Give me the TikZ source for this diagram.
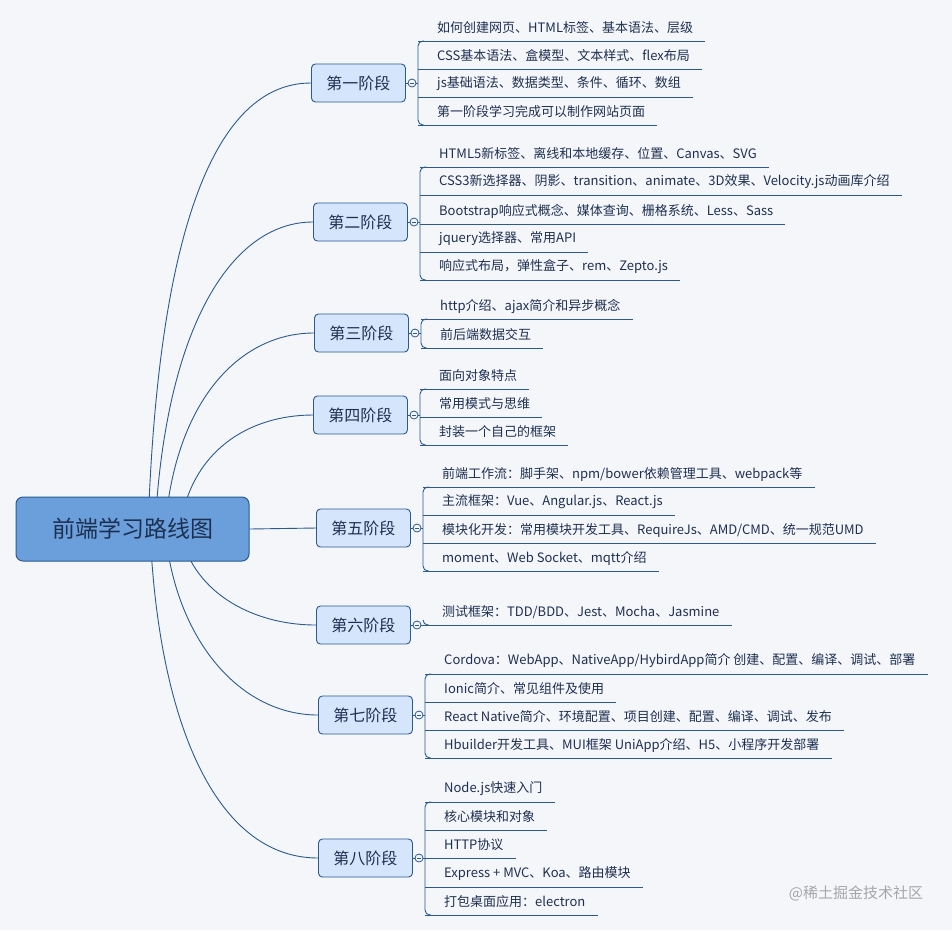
\documentclass[tikz,border=0pt]{standalone}
\usepackage{fontspec}
\setmainfont{Noto Sans CJK SC}
\usetikzlibrary{calc}
\definecolor{bg}{HTML}{F4F6FA}
\definecolor{ln}{HTML}{2A5A92}
\definecolor{stf}{HTML}{D5E6FC}
\definecolor{rootf}{HTML}{6A9FDC}
\definecolor{tx}{HTML}{1E3050}
\tikzset{
  line/.style={draw=ln, line width=0.9pt},
  stage/.style={draw=ln, line width=0.9pt, fill=stf, rounded corners=4pt, minimum width=94pt, minimum height=38pt, inner sep=0pt, font=\fontsize{16}{18}\selectfont, text=tx},
  item/.style={inner sep=0pt, font=\fontsize{13}{15}\selectfont, text=tx},
  knob/.style={draw=ln, line width=0.8pt, fill=bg, circle, minimum size=8pt, inner sep=0pt},
}
% #1 name #2 label #3 left x #4 cy #5 items y/text #6 first item y #7 last item y
\newcommand\stagegrp[7]{%
  \node[stage, anchor=west] (#1) at (#3,#4) {#2};
  \foreach \yy/\tt [count=\i] in {#5} {
    \node[item, anchor=west] (#1-\i) at (#3+126,\yy) {\tt};
    \draw[line] (#3+107,\yy+13) -- ($(#1-\i.east)+(12,13)$);
  }
  \draw[line, rounded corners=5pt] (#3+113,#6+13) -- (#3+107,#6+13) -- (#3+107,#7+13) -- (#3+113,#7+13);
  \draw[line] (#1.east) -- (#3+107,#4);
  \node[knob] (#1-k) at (#3+101,#4) {};
  \draw[line, line width=0.7pt] ($(#1-k)+(-2,0)$) -- ($(#1-k)+(2,0)$);
}
\begin{document}
\begin{tikzpicture}[x=1pt,y=-1pt]
\fill[bg] (0,0) rectangle (952,930);
\useasboundingbox (0,0) rectangle (952,930);

\stagegrp{s1}{第一阶段}{311}{83}{28/{如何创建网页、HTML标签、基本语法、层级},56/{CSS基本语法、盒模型、文本样式、flex布局},84/{js基础语法、数据类型、条件、循环、数组},112/{第一阶段学习完成可以制作网站页面}}{28}{112}
\stagegrp{s2}{第二阶段}{313}{222}{154/{HTML5新标签、离线和本地缓存、位置、Canvas、SVG},182/{CSS3新选择器、阴影、transition、animate、3D效果、Velocity.js动画库介绍},211/{Bootstrap响应式概念、媒体查询、栅格系统、Less、Sass},239/{jquery选择器、常用API},267/{响应式布局，弹性盒子、rem、Zepto.js}}{154}{267}
\stagegrp{s3}{第三阶段}{314}{333}{306/{http介绍、ajax简介和异步概念},335/{前后端数据交互}}{306}{335}
\stagegrp{s4}{第四阶段}{313}{415}{376/{面向对象特点},404/{常用模式与思维},432/{封装一个自己的框架}}{376}{432}
\stagegrp{s5}{第五阶段}{316}{528}{474/{前端工作流：脚手架、npm/bower依赖管理工具、webpack等},502/{主流框架：Vue、Angular.js、React.js},530/{模块化开发：常用模块开发工具、RequireJs、AMD/CMD、统一规范UMD},558/{moment、Web Socket、mqtt介绍}}{474}{558}
\stagegrp{s6}{第六阶段}{316}{625}{612/{测试框架：TDD/BDD、Jest、Mocha、Jasmine}}{612}{612}
\stagegrp{s7}{第七阶段}{318}{715}{661/{Cordova：WebApp、NativeApp/HybirdApp简介 创建、配置、编译、调试、部署},689/{Ionic简介、常见组件及使用},717/{React Native简介、环境配置、项目创建、配置、编译、调试、发布},745/{Hbuilder开发工具、MUI框架 UniApp介绍、H5、小程序开发部署}}{661}{745}
\stagegrp{s8}{第八阶段}{318}{858}{789/{Node.js快速入门},817/{核心模块和对象},845/{HTTP协议},874/{Express + MVC、Koa、路由模块},902/{打包桌面应用：electron}}{789}{902}

% connectors
\coordinate (r1) at (148,529);
\coordinate (r2) at (155,529);
\coordinate (r3) at (165,529);
\coordinate (r4) at (180,529);
\coordinate (r6) at (180,529);
\coordinate (r7) at (165,529);
\coordinate (r8) at (150,529);
\draw[line] (r1) .. controls (158,230) and (215,83) .. (s1.west);
\draw[line] (r2) .. controls (165,330) and (230,222) .. (s2.west);
\draw[line] (r3) .. controls (175,400) and (240,333) .. (s3.west);
\draw[line] (r4) .. controls (190,450) and (250,415) .. (s4.west);
\draw[line] (r6) .. controls (190,590) and (250,625) .. (s6.west);
\draw[line] (r7) .. controls (175,640) and (240,715) .. (s7.west);
\draw[line] (r8) .. controls (158,720) and (215,858) .. (s8.west);

\node[draw=ln, line width=1pt, fill=rootf, rounded corners=7pt, minimum width=233pt, minimum height=64pt, inner sep=0pt, font=\fontsize{23}{26}\selectfont, text=tx] (root) at (132.5,529) {前端学习路线图};
\draw[line] (root.east) -- (s5.west);

\node[font=\fontsize{15}{17}\selectfont, text=black!35] (wm) at (856,893) {@稀土掘金技术社区};
\end{tikzpicture}
\end{document}
